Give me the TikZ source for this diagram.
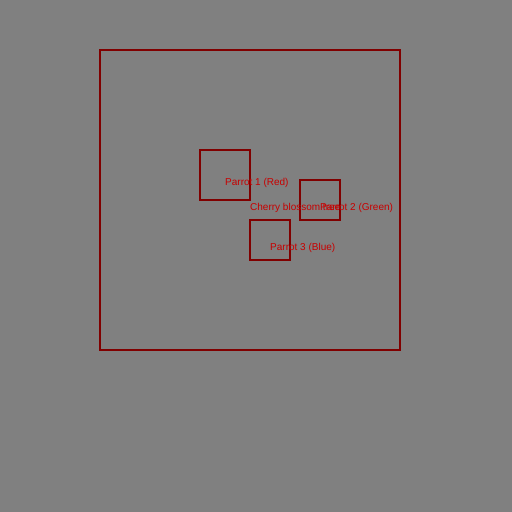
\documentclass[tikz,border=0pt]{standalone}
\usepackage{fontspec}
\setmainfont{Liberation Sans}
\usepackage{tikz}
\usetikzlibrary{positioning, calc}
\definecolor{bg}{RGB}{128,128,128}
\definecolor{frame}{RGB}{128,0,0}
\definecolor{lbl}{RGB}{200,0,0}

\begin{document}
\begin{tikzpicture}[x=1pt, y=-1pt,
    box/.style={draw=frame, line width=2pt, minimum size=#1, inner sep=0pt},
    lab/.style={anchor=base west, inner sep=0pt, text=lbl, font=\fontsize{10}{12}\selectfont}]
    \fill[bg] (0,0) rectangle (512,512);
    \useasboundingbox (0,0) rectangle (512,512);
    
    \node[box=300pt] (tree) at (250,200) {};
    \node[box=50pt] (p1) at (225,175) {};
    \node[box=40pt] (p2) at (320,200) {};
    \node[box=40pt] (p3) at (270,240) {};
    
    \node[lab] (treelab) at ($(tree.center)+(0,10)$) {Cherry blossom tree};
    \node[lab] (p1lab) at ($(p1.center)+(0,10)$) {Parrot 1 (Red)};
    \node[lab] (p2lab) at ($(p2.center)+(0,10)$) {Parrot 2 (Green)};
    \node[lab] (p3lab) at ($(p3.center)+(0,10)$) {Parrot 3 (Blue)};
\end{tikzpicture}
\end{document}
